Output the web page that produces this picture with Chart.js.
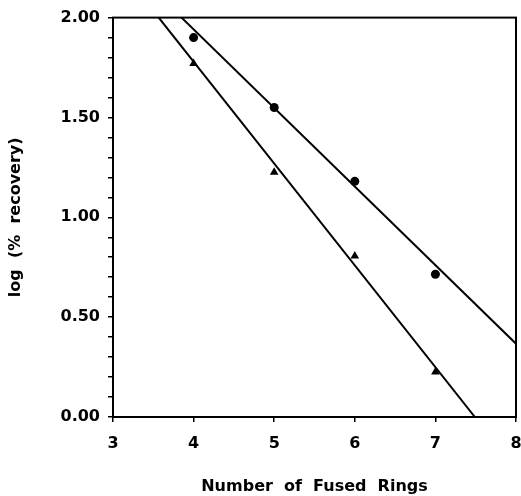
<!DOCTYPE html>
<html>
<head>
<meta charset="utf-8">
<script src="https://cdn.jsdelivr.net/npm/chart.js@4/dist/chart.umd.min.js"></script>
<style>
  html, body { margin: 0; padding: 0; background: #fff; }
  #wrap { width: 521px; height: 496px; }
</style>
</head>
<body>
<div id="wrap"><canvas id="chart" width="521" height="496"></canvas></div>
<script>
// values
var rings = [4, 5, 6, 7];
var circleRecovery = [1.90, 1.55, 1.18, 0.715];
var triangleRecovery = [1.77, 1.225, 0.806, 0.225];

// fitted lines, endpoints where they leave the plot box
var circleFitX = [3.85, 8];
var circleFitY = [2.0, 0.367];
var triangleFitX = [3.567, 7.49];
var triangleFitY = [2.0, 0.0];

var xTicks = [3, 4, 5, 6, 7, 8];

function pairs(xs, ys) {
    return xs.map(function (x, i) { return {x: x, y: ys[i]}; });
}

var tickFont = {family: "'DejaVu Sans', sans-serif", size: 16, weight: 'bold'};
var titleFont = {family: "'DejaVu Sans', sans-serif", size: 16, weight: 'bold'};

// box around the plot area
var frame = {
    id: 'frame',
    afterDraw: function (chart) {
        var a = chart.chartArea, ctx = chart.ctx;
        ctx.save();
        ctx.strokeStyle = '#000';
        ctx.lineWidth = 2;
        ctx.strokeRect(a.left, a.top, a.right - a.left, a.bottom - a.top);
        ctx.restore();
    }
};

var ctx = document.getElementById('chart').getContext('2d');
new Chart(ctx, {
    type: 'scatter',
    data: {
        datasets: [
            {
                label: 'circles',
                data: pairs(rings, circleRecovery),
                pointStyle: 'circle',
                pointRadius: 4.5,
                backgroundColor: '#000',
                borderColor: '#000',
                borderWidth: 0
            },
            {
                label: 'triangles',
                data: pairs(rings, triangleRecovery),
                pointStyle: 'triangle',
                pointRadius: 5,
                backgroundColor: '#000',
                borderColor: '#000',
                borderWidth: 0
            },
            {
                type: 'line',
                label: 'circle fit',
                data: pairs(circleFitX, circleFitY),
                borderColor: '#000',
                borderWidth: 2,
                pointRadius: 0,
                fill: false
            },
            {
                type: 'line',
                label: 'triangle fit',
                data: pairs(triangleFitX, triangleFitY),
                borderColor: '#000',
                borderWidth: 2,
                pointRadius: 0,
                fill: false
            }
        ]
    },
    options: {
        responsive: false,
        animation: false,
        layout: {padding: {top: 15, right: 5, bottom: 0, left: 0}},
        plugins: {legend: {display: false}, tooltip: {enabled: false}},
        scales: {
            x: {
                type: 'linear',
                min: 3,
                max: 8,
                afterBuildTicks: function (scale) {
                    scale.ticks = xTicks.map(function (v) { return {value: v}; });
                },
                afterFit: function (scale) {
                    scale.height = 79;
                    scale.paddingLeft = 0;
                    scale.paddingRight = 0;
                },
                border: {display: true, color: '#000', width: 2},
                grid: {drawOnChartArea: false, color: '#000', tickLength: 5, lineWidth: 1.5},
                ticks: {color: '#000', font: tickFont, padding: 12, maxRotation: 0},
                title: {
                    display: true,
                    text: 'Number  of  Fused  Rings',
                    color: '#000',
                    font: titleFont,
                    padding: {top: 0, bottom: 0}
                }
            },
            y: {
                type: 'linear',
                min: 0,
                max: 2,
                afterFit: function (scale) { scale.width = 113; },
                border: {display: true, color: '#000', width: 2},
                grid: {drawOnChartArea: false, color: '#000', tickLength: 5, lineWidth: 1.5},
                ticks: {
                    stepSize: 0.1,
                    autoSkip: false,
                    color: '#000',
                    font: tickFont,
                    padding: 8,
                    callback: function (v) {
                        var t = Math.round(v * 10);
                        return t % 5 === 0 ? (t / 10).toFixed(2) : '';
                    }
                },
                title: {
                    display: true,
                    text: 'log  (%  recovery)',
                    color: '#000',
                    font: titleFont,
                    padding: {top: 6, bottom: 0}
                }
            }
        }
    },
    plugins: [frame]
});
</script>
</body>
</html>
